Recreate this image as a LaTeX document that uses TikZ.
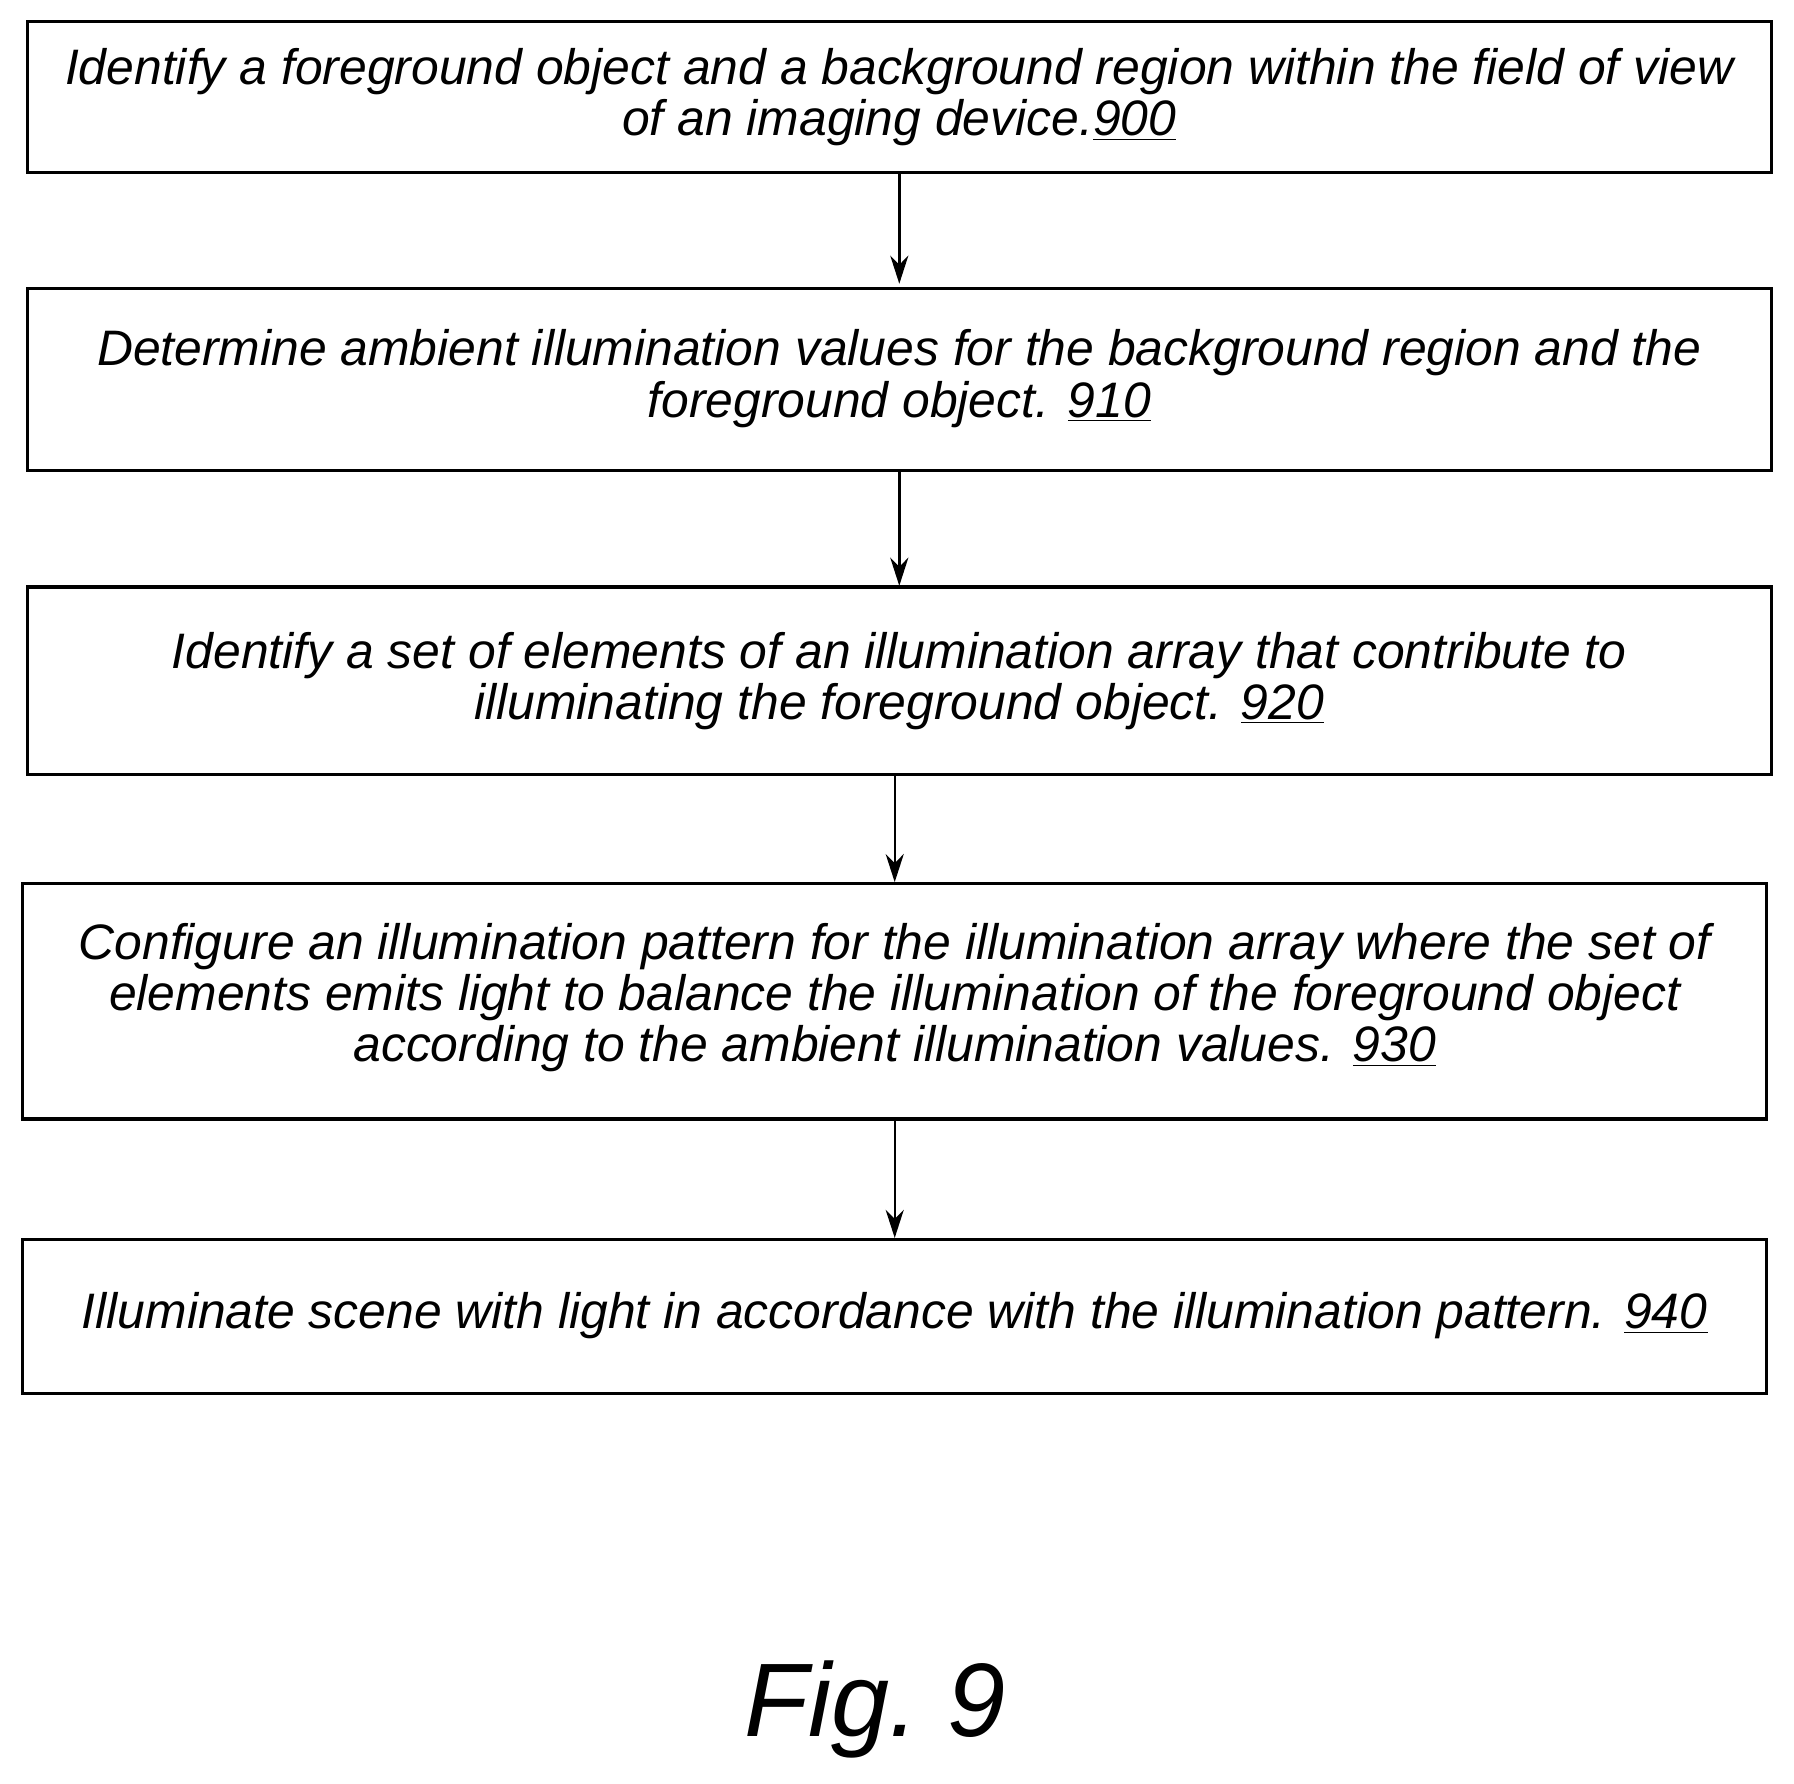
\documentclass[tikz,border=0pt]{standalone}
\usepackage{fontspec}
\setmainfont{Liberation Sans}
\usetikzlibrary{arrows.meta}
\begin{document}
\begin{tikzpicture}[x=0.02cm,y=-0.02cm,
  stepbox/.style={draw,line width=1.6pt,align=center,inner sep=0pt,
    font=\fontsize{24.8}{25.5}\selectfont\itshape},
  conn/.style={line width=1.2pt,-{Stealth[length=14pt,width=9pt]}}]
\useasboundingbox (0,0) rectangle (1568,1559);
\draw[stepbox] (24,19) rectangle (1548,151);
\node[stepbox,draw=none] (b1) at (786,85) {Identify a foreground object and a background region within the field of view\\of an imaging device.\underline{900}};
\draw[stepbox] (24,252) rectangle (1548,411);
\node[stepbox,draw=none] (b2) at (786,331) {Determine ambient illumination values for the background region and the\\foreground object. \underline{910}};
\draw[stepbox] (24,513) rectangle (1548,677);
\node[stepbox,draw=none] (b3) at (786,595) {Identify a set of elements of an illumination array that contribute to\\illuminating the foreground object. \underline{920}};
\draw[stepbox] (20,772) rectangle (1544,978);
\node[stepbox,draw=none] (b4) at (782,872) {Configure an illumination pattern for the illumination array where the set of\\elements emits light to balance the illumination of the foreground object\\according to the ambient illumination values. \underline{930}};
\draw[stepbox] (20,1083) rectangle (1544,1218);
\node[stepbox,draw=none] (b5) at (782,1150) {Illuminate scene with light in accordance with the illumination pattern. \underline{940}};
\coordinate (a1) at (786,151); \coordinate (a1e) at (786,248);
\coordinate (a2) at (786,411); \coordinate (a2e) at (786,512);
\coordinate (a3) at (782,677); \coordinate (a3e) at (782,771);
\coordinate (a4) at (782,978); \coordinate (a4e) at (782,1082);
\draw[conn] (a1) -- (a1e);
\draw[conn] (a2) -- (a2e);
\draw[conn] (a3) -- (a3e);
\draw[conn] (a4) -- (a4e);
\node[font=\fontsize{52}{56}\selectfont\itshape] (fig) at (765,1494) {Fig.~9};
\end{tikzpicture}
\end{document}
